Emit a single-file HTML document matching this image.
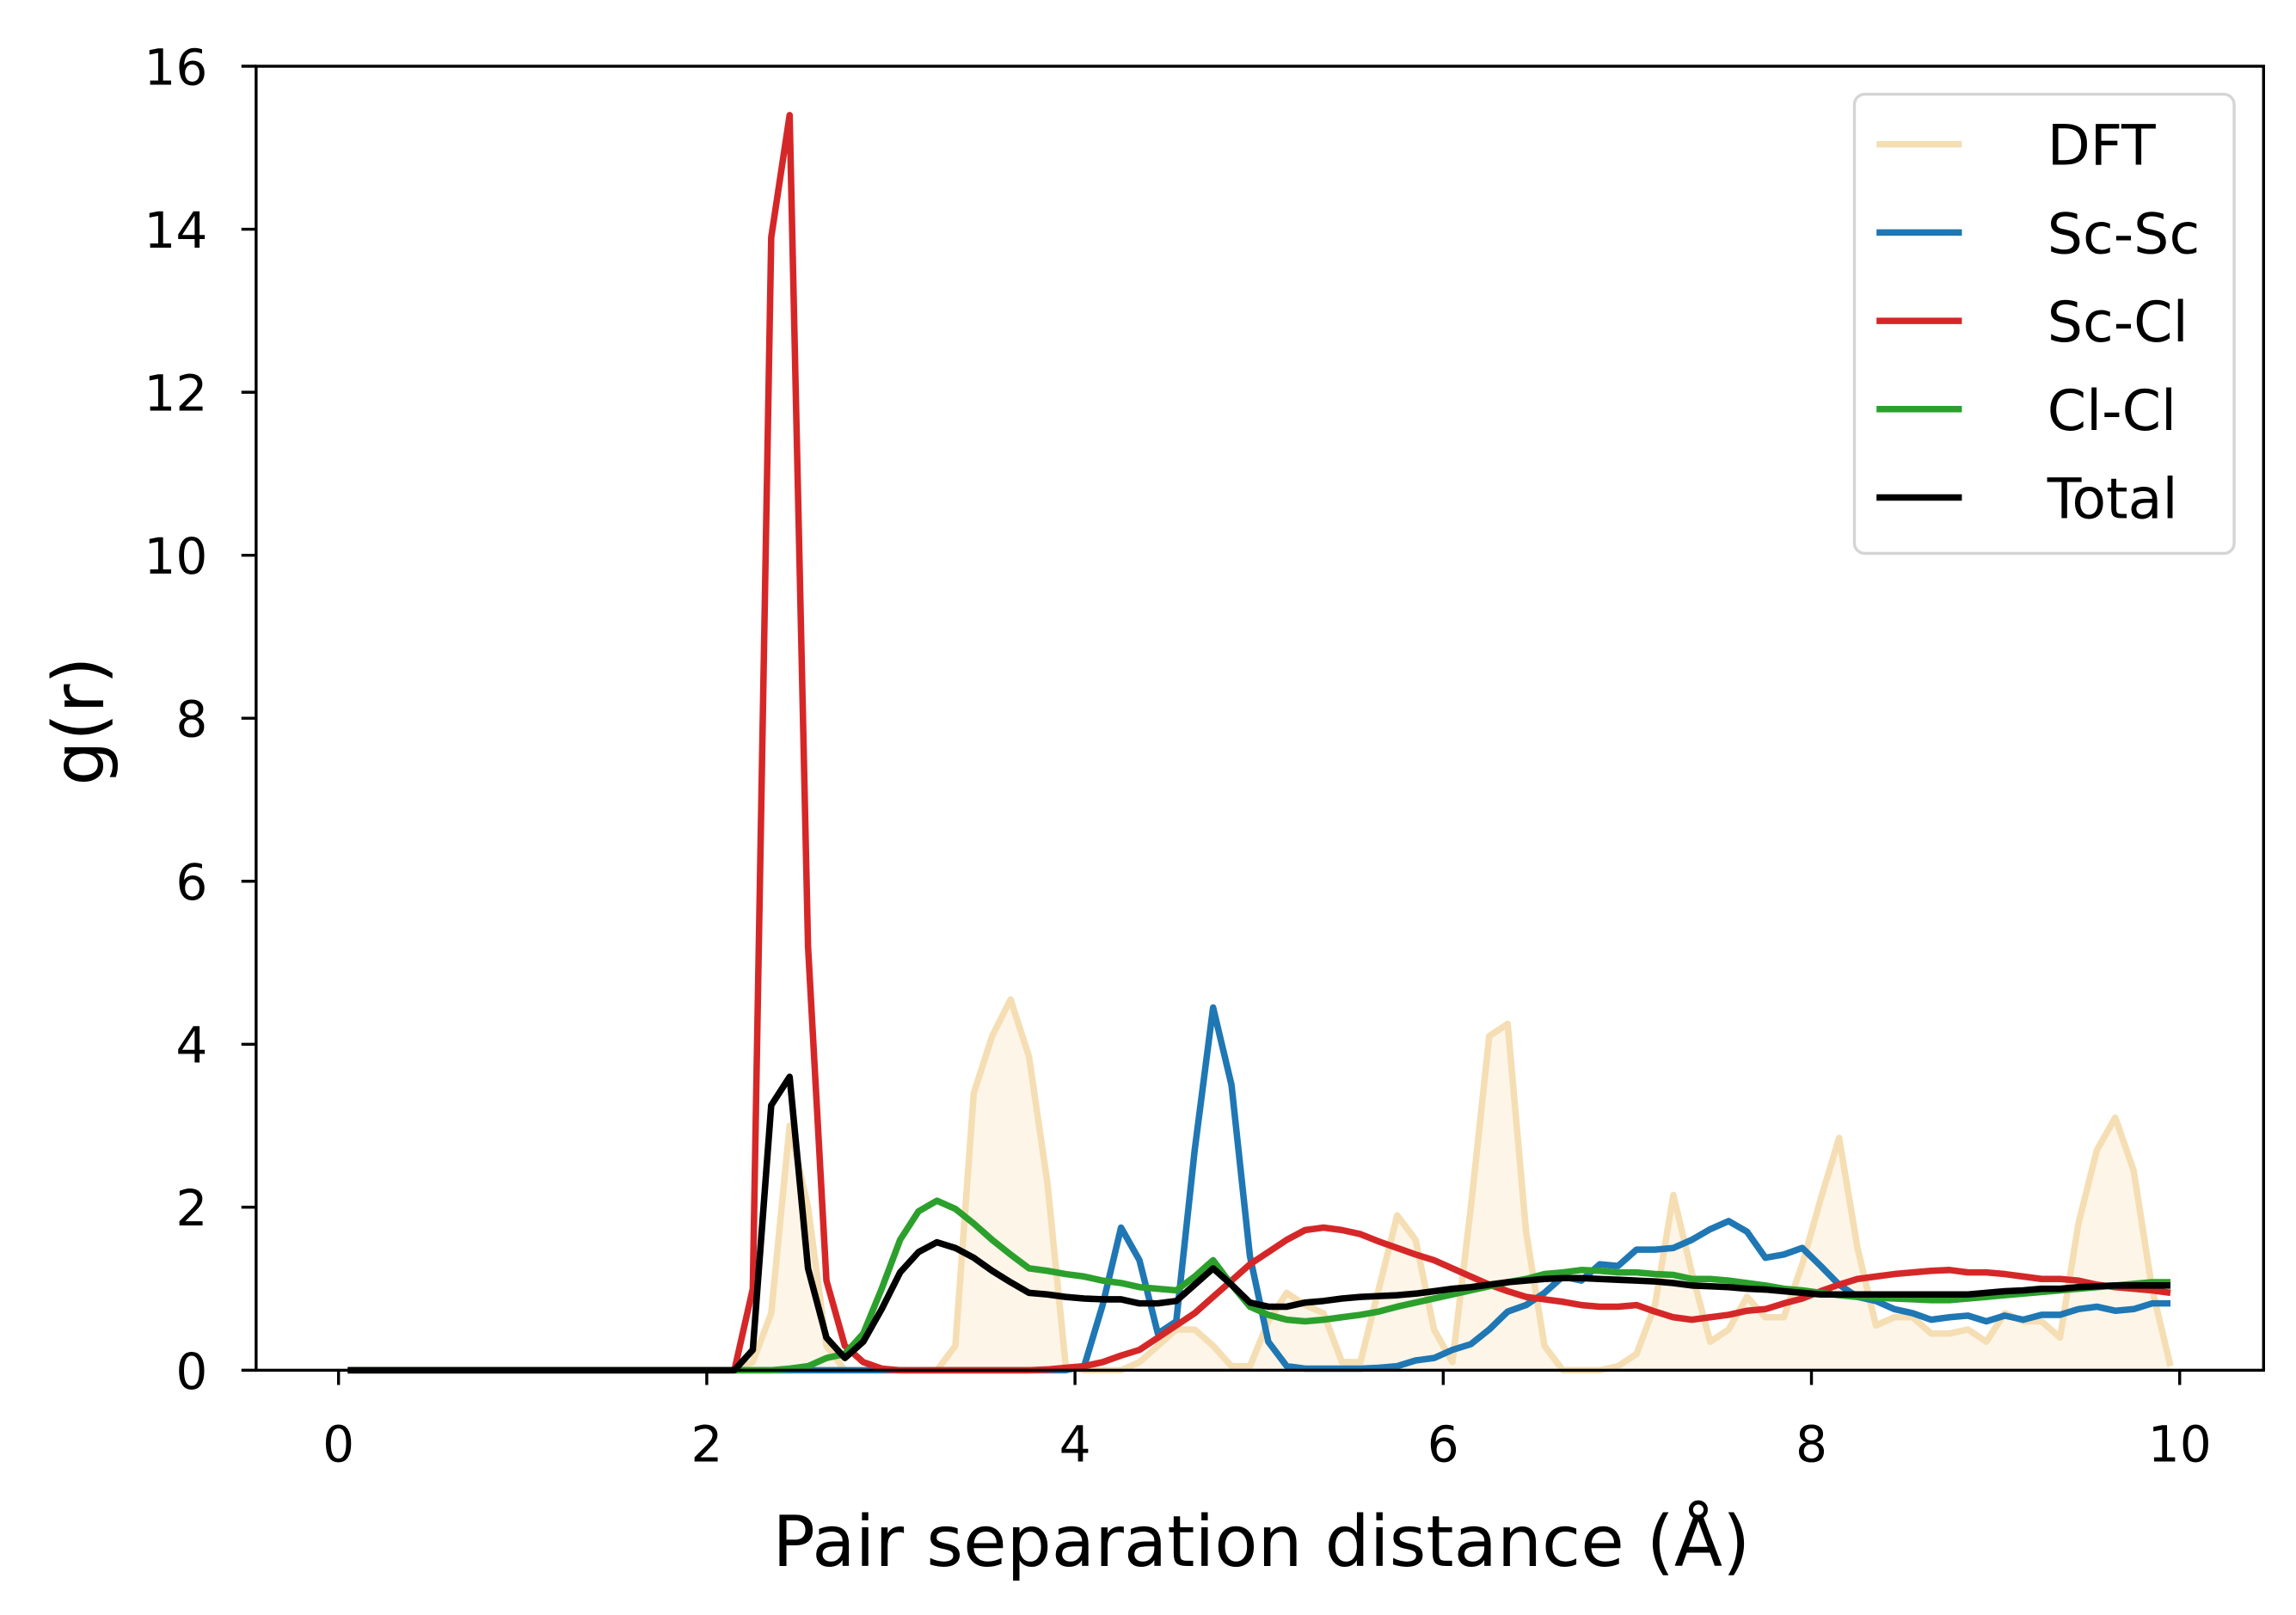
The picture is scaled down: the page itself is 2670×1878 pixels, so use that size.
<!DOCTYPE html>
<html><head><meta charset="utf-8"><style>html,body{margin:0;padding:0;background:#fff}svg{display:block}</style></head>
<body>
<svg id="chart" width="2670" height="1878" viewBox="0 0 1560 1097.3" xmlns="http://www.w3.org/2000/svg" font-family="'DejaVu Sans','Liberation Sans',sans-serif">
<rect width="1560" height="1097.3" fill="#fff"/>
<g id="plot"></g>
<rect x="174" y="45" width="1364" height="886" fill="none" stroke="#000" stroke-width="2"/>
<g id="axes"></g>
<text x="857" y="1064" font-size="48" text-anchor="middle">Pair separation distance (Å)</text>
<text transform="translate(70,490) rotate(-90)" font-size="48" text-anchor="middle">g(r)</text>
<g id="legend">
<rect x="1260" y="64" width="258" height="312" rx="7" fill="#fff" fill-opacity="0.8" stroke="#d5d5d5" stroke-width="2"/>
</g>
</svg>
<script>
const xStart = 0.05, xStep = 0.1;
const dft = [0,0,0,0,0,0,0,0,0,0, 0,0,0,0,0,0,0,0,0,0, 0,0,0.1,0.7,3.0,2.0,0.3,0,0,0, 0,0,0,0.3,3.4,4.1,4.55,3.85,2.3,0.05, 0,0,0,0.1,0.3,0.5,0.5,0.3,0.05,0.05, 0.6,0.95,0.8,0.7,0.1,0.1,1.0,1.9,1.6,0.5, 0.1,2.0,4.1,4.25,1.7,0.3,0,0,0,0.05, 0.2,0.8,2.15,1.2,0.35,0.5,0.9,0.65,0.65,1.3, 2.1,2.85,1.5,0.55,0.65,0.65,0.45,0.45,0.5,0.35, 0.7,0.6,0.6,0.4,1.8,2.7,3.1,2.45,1.0,0.05];
const scsc = [0,0,0,0,0,0,0,0,0,0, 0,0,0,0,0,0,0,0,0,0, 0,0,0,0,0,0,0,0,0,0, 0,0,0,0,0,0,0,0,0,0, 0.05,0.8,1.75,1.35,0.45,0.6,2.7,4.45,3.5,1.4, 0.35,0.05,0.02,0.02,0.02,0.02,0.03,0.05,0.12,0.15, 0.25,0.32,0.5,0.72,0.8,0.95,1.15,1.1,1.3,1.28, 1.48,1.48,1.5,1.6,1.73,1.83,1.7,1.38,1.42,1.5, 1.28,1.05,0.9,0.85,0.75,0.7,0.62,0.65,0.67,0.6, 0.67,0.62,0.68,0.68,0.75,0.78,0.73,0.75,0.82,0.82];
const sccl = [0,0,0,0,0,0,0,0,0,0, 0,0,0,0,0,0,0,0,0,0, 0,0,1.0,13.9,15.4,5.2,1.1,0.3,0.1,0.02, 0,0,0,0,0,0,0,0,0.01,0.03, 0.05,0.1,0.18,0.25,0.4,0.55,0.7,0.9,1.1,1.3, 1.45,1.6,1.72,1.75,1.72,1.67,1.58,1.5,1.42,1.35, 1.25,1.15,1.05,0.97,0.9,0.87,0.84,0.8,0.78,0.78, 0.8,0.72,0.65,0.62,0.65,0.68,0.73,0.75,0.82,0.88, 0.97,1.05,1.12,1.15,1.18,1.2,1.22,1.23,1.2,1.2, 1.18,1.15,1.12,1.12,1.1,1.05,1.02,1.0,0.98,0.95];
const clcl = [0,0,0,0,0,0,0,0,0,0, 0,0,0,0,0,0,0,0,0,0, 0,0,0,0,0.02,0.05,0.15,0.2,0.45,1.0, 1.6,1.95,2.08,1.98,1.8,1.6,1.42,1.25,1.22,1.18, 1.15,1.1,1.07,1.02,1.0,0.98,1.15,1.35,1.05,0.78, 0.68,0.62,0.6,0.62,0.65,0.68,0.72,0.78,0.83,0.88, 0.93,0.98,1.03,1.08,1.12,1.18,1.2,1.23,1.22,1.2, 1.2,1.18,1.17,1.12,1.12,1.1,1.07,1.04,1.0,0.98, 0.95,0.92,0.9,0.89,0.88,0.87,0.86,0.86,0.88,0.9, 0.92,0.94,0.96,0.98,1.0,1.02,1.04,1.06,1.08,1.08];
const total = [0,0,0,0,0,0,0,0,0,0, 0,0,0,0,0,0,0,0,0,0, 0,0,0.25,3.25,3.6,1.25,0.4,0.15,0.35,0.75, 1.2,1.45,1.57,1.5,1.38,1.22,1.08,0.95,0.93,0.9, 0.88,0.87,0.87,0.82,0.82,0.85,1.05,1.25,1.05,0.83, 0.78,0.78,0.83,0.85,0.88,0.9,0.91,0.92,0.94,0.97, 1.0,1.02,1.05,1.08,1.1,1.12,1.13,1.13,1.12,1.11, 1.1,1.09,1.07,1.04,1.03,1.02,1.0,0.99,0.97,0.95, 0.93,0.93,0.93,0.93,0.93,0.93,0.93,0.93,0.93,0.95, 0.97,0.98,1.0,1.0,1.02,1.03,1.04,1.04,1.04,1.04];
const xTicks = [0,2,4,6,8,10];
const yTicks = [0,2,4,6,8,10,12,14,16];
const seriesNames = ["DFT","Sc-Sc","Sc-Cl","Cl-Cl","Total"];
const seriesColors = ["#f5deb3","#1f77b4","#d62728","#2ca02c","#000000"];

const NS = "http://www.w3.org/2000/svg";
const X = r => 230 + r * 125.1;
const Y = v => 931 - v * 55.375;
function mk(tag, attrs, parent){const e=document.createElementNS(NS,tag);for(const k in attrs)e.setAttribute(k,attrs[k]);parent.appendChild(e);return e;}
const plot = document.getElementById('plot');
const axes = document.getElementById('axes');
function pts(arr){return arr.map((v,i)=>X(xStart+i*xStep).toFixed(2)+','+Y(v).toFixed(2));}
const allSeries=[dft,scsc,sccl,clcl,total];
const p0 = pts(dft);
const fill = mk('polygon',{points: X(xStart)+','+Y(0)+' '+p0.join(' ')+' '+X(xStart+(dft.length-1)*xStep)+','+Y(0), fill:'#f5deb3','fill-opacity':'0.3',stroke:'none'},plot);


allSeries.forEach((s,k)=>{
  const pl = mk('polyline',{points: pts(s).join(' '), fill:'none', stroke:seriesColors[k], 'stroke-width': 4.4, 'stroke-linejoin':'round'},plot);
  
  
});
xTicks.forEach(t=>{
  const l=mk('line',{x1:X(t),x2:X(t),y1:931,y2:941,stroke:'#000','stroke-width':2},axes);
  
  
  const tx=mk('text',{x:X(t),y:993,'font-size':34,'text-anchor':'middle'},axes);
  tx.textContent=t;
  
  
});
yTicks.forEach(t=>{
  const l=mk('line',{x1:164,x2:174,y1:Y(t),y2:Y(t),stroke:'#000','stroke-width':2},axes);
  
  
  const tx=mk('text',{x:141,y:Y(t)+12.5,'font-size':34,'text-anchor':'end'},axes);
  tx.textContent=t;
  
  
});
const lg=document.getElementById('legend');
seriesNames.forEach((n,k)=>{
  const y=98+k*60;
  const l=mk('line',{x1:1275,x2:1333,y1:y,y2:y,stroke:seriesColors[k],'stroke-width':4.4},lg);
  
  
  const tx=mk('text',{x:1391,y:y+14,'font-size':38},lg);
  tx.textContent=n;
  
  
});
</script>
</body></html>
